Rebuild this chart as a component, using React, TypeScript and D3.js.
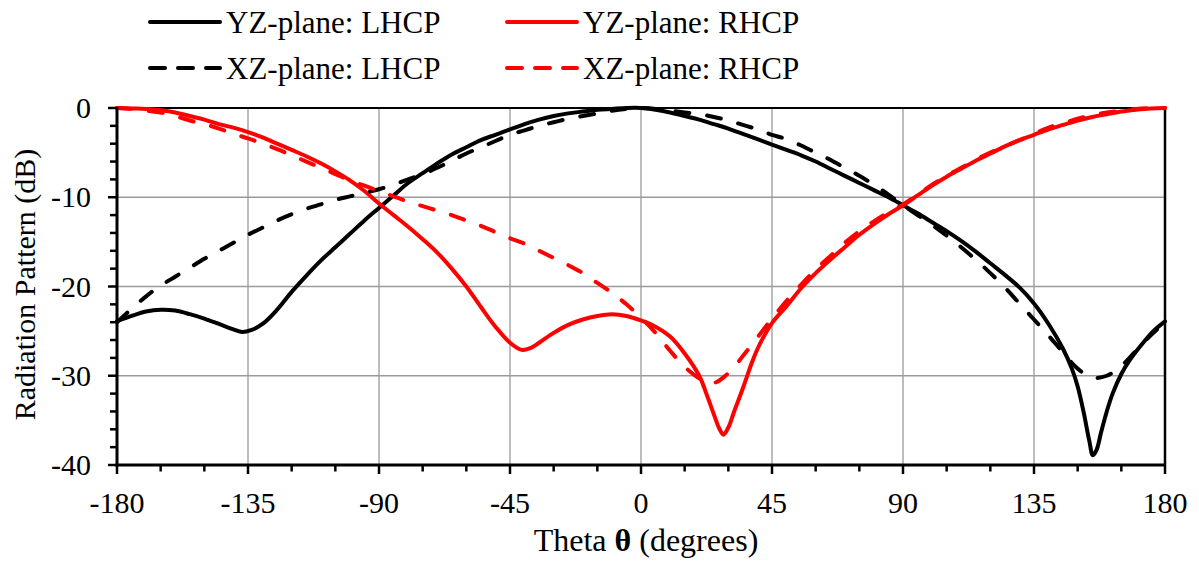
import React from 'react';
import * as d3 from 'd3';

// ---- data (theta in degrees, pattern in dB) ----
const yzLhcpTheta = [-180,-175,-170,-165,-160,-155,-150,-145,-140,-137,-134,-130,-125,-120,-115,-110,-105,-100,-95,-90,-85,-80,-75,-70,-65,-60,-55,-50,-45,-40,-35,-30,-25,-20,-15,-10,-5,0,5,10,15,20,25,30,35,40,45,50,55,60,65,70,75,80,85,90,95,100,105,110,115,120,125,130,135,140,145,148,150,152,154,155.2,156.5,158,160,162,165,168,172,176,180];
const yzLhcpDb = [-23.9,-23.3,-22.8,-22.6,-22.7,-23.1,-23.6,-24.2,-24.8,-25.1,-24.9,-24.2,-22.6,-20.6,-18.8,-17.1,-15.6,-14.1,-12.6,-11.2,-9.8,-8.4,-7.3,-6.2,-5.2,-4.4,-3.6,-3.0,-2.4,-1.8,-1.3,-0.9,-0.6,-0.4,-0.2,-0.1,0,0,-0.2,-0.5,-0.9,-1.3,-1.8,-2.3,-2.9,-3.5,-4.1,-4.7,-5.3,-6.0,-6.8,-7.6,-8.4,-9.2,-10.0,-10.9,-11.8,-12.8,-13.8,-14.9,-16.1,-17.4,-18.7,-20.1,-21.9,-24.2,-27.0,-29.2,-31.2,-34.0,-37.3,-38.9,-38.3,-36.4,-34.0,-32.0,-29.8,-28.2,-26.5,-25.0,-23.9];

const yzRhcpTheta = [-180,-175,-170,-165,-160,-155,-150,-145,-140,-135,-130,-125,-120,-115,-110,-105,-100,-95,-90,-85,-80,-75,-70,-65,-60,-55,-50,-45,-41,-38,-35,-30,-25,-20,-15,-10,-5,0,5,10,15,20,23,25,27,28.3,30,32,35,38,40,42,45,50,55,60,65,70,75,80,85,90,95,100,105,110,115,120,125,130,135,140,145,150,155,160,165,170,175,180];
const yzRhcpDb = [0,-0.05,-0.1,-0.25,-0.5,-0.9,-1.3,-1.8,-2.2,-2.7,-3.3,-4.0,-4.7,-5.4,-6.2,-7.1,-8.1,-9.3,-10.7,-12.0,-13.3,-14.7,-16.2,-18.0,-20.0,-22.3,-24.5,-26.3,-27.1,-26.9,-26.3,-25.2,-24.3,-23.7,-23.3,-23.1,-23.3,-23.8,-24.5,-25.6,-27.5,-30.0,-32.5,-34.3,-36.0,-36.6,-35.8,-34.0,-31.4,-28.6,-27.0,-25.7,-24.1,-22.2,-20.2,-18.5,-17.0,-15.6,-14.2,-13.0,-11.9,-10.9,-9.8,-8.7,-7.7,-6.8,-5.9,-5.1,-4.3,-3.6,-3.0,-2.4,-1.9,-1.4,-1.0,-0.7,-0.4,-0.2,-0.05,0];

const xzLhcpTheta = [-180,-175,-170,-165,-160,-155,-150,-145,-140,-135,-130,-125,-120,-115,-110,-105,-100,-95,-90,-85,-80,-75,-70,-65,-60,-55,-50,-45,-40,-35,-30,-25,-20,-15,-10,-5,0,5,10,15,20,25,30,35,40,45,50,55,60,65,70,75,80,85,90,95,100,105,110,115,120,125,130,135,140,145,150,155,160,165,170,175,180];
const xzLhcpDb = [-24.0,-22.5,-21.1,-19.9,-18.9,-17.9,-16.9,-16.0,-15.1,-14.2,-13.4,-12.6,-11.9,-11.3,-10.8,-10.3,-9.9,-9.5,-9.1,-8.6,-8.0,-7.4,-6.7,-5.9,-5.1,-4.4,-3.7,-3.0,-2.5,-2.0,-1.6,-1.2,-0.9,-0.6,-0.3,-0.1,0,-0.1,-0.3,-0.5,-0.7,-1.0,-1.4,-1.9,-2.4,-3.0,-3.5,-4.2,-5.0,-5.8,-6.7,-7.6,-8.6,-9.7,-10.9,-12.0,-13.1,-14.3,-15.6,-17.0,-18.5,-20.1,-21.9,-23.7,-25.5,-27.4,-29.2,-30.2,-30.0,-28.9,-27.2,-25.5,-24.0];

const xzRhcpTheta = [-180,-175,-170,-165,-160,-155,-150,-145,-140,-135,-130,-125,-120,-115,-110,-105,-100,-95,-90,-85,-80,-75,-70,-65,-60,-55,-50,-45,-40,-35,-30,-25,-20,-15,-10,-5,0,5,10,15,20,23,26,29,32,35,40,45,50,55,60,65,70,75,80,85,90,95,100,105,110,115,120,125,130,135,140,145,150,155,160,165,170,175,180];
const xzRhcpDb = [0,-0.1,-0.3,-0.5,-0.9,-1.4,-1.8,-2.3,-2.9,-3.4,-4.0,-4.6,-5.3,-6.0,-6.7,-7.4,-8.1,-8.7,-9.3,-9.9,-10.5,-11.0,-11.5,-12.0,-12.6,-13.2,-13.9,-14.6,-15.2,-16.0,-16.8,-17.6,-18.5,-19.6,-20.7,-22.0,-23.5,-25.2,-27.2,-29.0,-30.3,-30.8,-30.7,-30.0,-29.0,-27.8,-25.7,-23.6,-21.6,-19.8,-18.1,-16.6,-15.1,-13.8,-12.7,-11.7,-10.8,-9.7,-8.6,-7.6,-6.7,-5.8,-5.0,-4.3,-3.6,-2.9,-2.2,-1.7,-1.2,-0.8,-0.5,-0.3,-0.1,0,0];

const xMajorTicks = [-180, -135, -90, -45, 0, 45, 90, 135, 180];
const xMinorTicks = d3.range(-180, 181, 15);
const yMajorTicks = [0, -10, -20, -30, -40];
const yMinorTicks = d3.range(-40, 1, 2);

const seriesNames = ['YZ-plane: LHCP', 'YZ-plane: RHCP', 'XZ-plane: LHCP', 'XZ-plane: RHCP'];
const seriesColors = ['#000000', '#ff0000', '#000000', '#ff0000'];
const seriesDashed = [false, false, true, true];

const xTitle = 'Theta ';
const xTitleSym = 'θ';
const xTitleRest = ' (degrees)';
const yTitle = 'Radiation Pattern (dB)';

const W = 1199;
const H = 561;
const FONT = 'Liberation Serif';
const DASH = '14 18';
const LEGEND_DASH = '15 13';

export default function App() {
  const x = d3.scaleLinear().domain([-180, 180]).range([117, 1165]);
  const y = d3.scaleLinear().domain([-40, 0]).range([465, 108]);
  const line = d3
    .line<[number, number]>()
    .x((d) => x(d[0]))
    .y((d) => y(d[1]))
    .curve(d3.curveCatmullRom.alpha(0.5));

  const series = [
    { t: yzLhcpTheta, v: yzLhcpDb },
    { t: yzRhcpTheta, v: yzRhcpDb },
    { t: xzLhcpTheta, v: xzLhcpDb },
    { t: xzRhcpTheta, v: xzRhcpDb },
  ].map((s, i) => ({
    name: seriesNames[i],
    color: seriesColors[i],
    dashed: seriesDashed[i],
    d: line(s.t.map((t, j) => [t, s.v[j]] as [number, number])) || '',
  }));

  const [x0, x1] = x.range();
  const [y0, y1] = [y(-40), y(0)];

  const legendPos = [
    { lx: 150, ly: 22 },
    { lx: 507, ly: 22 },
    { lx: 150, ly: 68 },
    { lx: 507, ly: 68 },
  ];

  const txt = { fontFamily: FONT } as React.CSSProperties;

  return (
    <svg width={W} height={H} style={{ position: 'absolute', left: 0, top: 0, background: '#fff' }}>
      {/* grid */}
      {xMajorTicks.slice(1, -1).map((t) => (
        <line key={'gx' + t} x1={x(t)} x2={x(t)} y1={y1} y2={y0} stroke="#9a9a9a" strokeWidth={1.3} />
      ))}
      {yMajorTicks.slice(1, -1).map((t) => (
        <line key={'gy' + t} x1={x0} x2={x1} y1={y(t)} y2={y(t)} stroke="#9a9a9a" strokeWidth={1.3} />
      ))}

      {/* top & right frame */}
      <line x1={x0} x2={x1} y1={y1} y2={y1} stroke="#000" strokeWidth={2} />
      <line x1={x1} x2={x1} y1={y1} y2={y0} stroke="#000" strokeWidth={2.5} />

      {/* curves */}
      {series.map((s, i) => (
        <path
          key={'s' + i}
          d={s.d}
          fill="none"
          stroke={s.color}
          strokeWidth={4}
          strokeLinecap="round"
          strokeLinejoin="round"
          strokeDasharray={s.dashed ? DASH : undefined}
        />
      ))}

      {/* axes */}
      <line x1={x0} x2={x0} y1={y1 - 1} y2={y0 + 1.5} stroke="#000" strokeWidth={3} />
      <line x1={x0 - 1.5} x2={x1 + 1} y1={y0} y2={y0} stroke="#000" strokeWidth={3} />

      {yMinorTicks.map((t) => {
        const major = yMajorTicks.includes(t);
        return (
          <line key={'yt' + t} x1={x0 - (major ? 9 : 7)} x2={x0} y1={y(t)} y2={y(t)} stroke="#000" strokeWidth={2.5} />
        );
      })}
      {xMinorTicks.map((t) => {
        const major = xMajorTicks.includes(t);
        return (
          <line key={'xt' + t} x1={x(t)} x2={x(t)} y1={y0} y2={y0 + (major ? 9 : 6.5)} stroke="#000" strokeWidth={2.5} />
        );
      })}

      {/* tick labels */}
      {yMajorTicks.map((t) => (
        <text key={'yl' + t} x={91} y={y(t) + 10} textAnchor="end" fontSize={30} fill="#000" style={txt}>
          {t}
        </text>
      ))}
      {xMajorTicks.map((t) => (
        <text key={'xl' + t} x={x(t)} y={513} textAnchor="middle" fontSize={30} fill="#000" style={txt}>
          {t}
        </text>
      ))}

      {/* axis titles */}
      <text x={646} y={551} textAnchor="middle" fontSize={32} fill="#000" style={txt}>
        {xTitle}
        <tspan fontWeight="bold">{xTitleSym}</tspan>
        {xTitleRest}
      </text>
      <text
        transform={`translate(35, ${(y0 + y1) / 2 - 2}) rotate(-90)`}
        textAnchor="middle"
        fontSize={30}
        fill="#000"
        style={txt}
      >
        {yTitle}
      </text>

      {/* legend */}
      {series.map((s, i) => {
        const p = legendPos[i];
        return (
          <g key={'lg' + i}>
            <line
              x1={p.lx}
              x2={p.lx + 70}
              y1={p.ly}
              y2={p.ly}
              stroke={s.color}
              strokeWidth={4}
              strokeLinecap="round"
              strokeDasharray={s.dashed ? LEGEND_DASH : undefined}
            />
            <text x={p.lx + 76} y={p.ly + 11} fontSize={31} fill="#000" style={txt}>
              {s.name}
            </text>
          </g>
        );
      })}
    </svg>
  );
}
